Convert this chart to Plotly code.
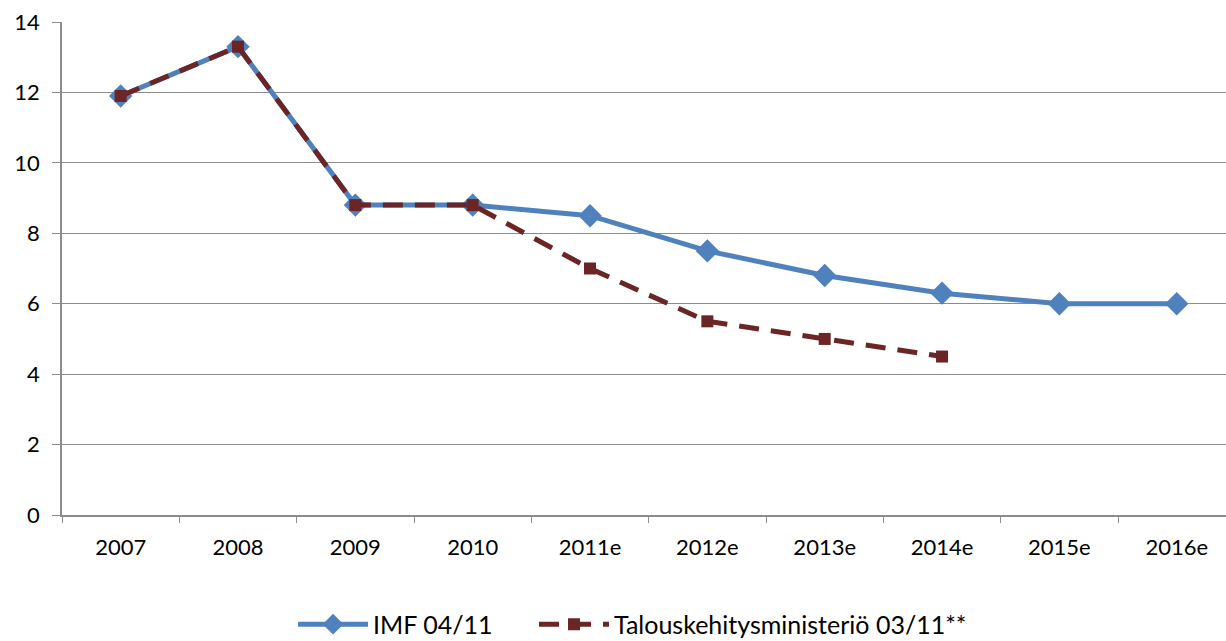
import plotly.graph_objects as go

years = ["2007", "2008", "2009", "2010", "2011e", "2012e", "2013e", "2014e", "2015e", "2016e"]
imf_values = [11.9, 13.3, 8.8, 8.8, 8.5, 7.5, 6.8, 6.3, 6.0, 6.0]
ministry_years = years[:8]
ministry_values = [11.9, 13.3, 8.8, 8.8, 7.0, 5.5, 5.0, 4.5]
y_ticks = [0, 2, 4, 6, 8, 10, 12, 14]

blue = "#4F81BD"
darkred = "#6B2525"
grid = "#8C8C8C"

fig = go.Figure()
fig.add_trace(go.Scatter(
    x=years, y=imf_values, name="IMF 04/11",
    mode="lines+markers",
    line=dict(color=blue, width=5),
    marker=dict(symbol="diamond", size=18, color=blue),
    legend="legend",
))
fig.add_trace(go.Scatter(
    x=ministry_years, y=ministry_values, name="Talouskehitysministeriö 03/11**",
    mode="lines+markers",
    line=dict(color=darkred, width=5, dash="20px,12px"),
    marker=dict(symbol="square", size=12, color=darkred),
    legend="legend2",
))

leg = dict(orientation="h", xanchor="left", y=-0.222, yanchor="middle",
           font=dict(size=25), itemwidth=70, bgcolor="rgba(0,0,0,0)")

fig.update_layout(
    width=1226, height=641,
    margin=dict(l=62, r=0, t=22, b=126, autoexpand=False),
    paper_bgcolor="white", plot_bgcolor="white",
    font=dict(family="Lato, 'Open Sans', sans-serif", size=22, color="black"),
    showlegend=True,
    legend=dict(leg, x=0.1985),
    legend2=dict(leg, x=0.4055),
)
# the original chart is cropped on the right: last category runs past the edge
fig.update_xaxes(
    type="category", categoryorder="array", categoryarray=years,
    range=[-0.5, 9.42], automargin=False,
    showgrid=False, showline=True, linecolor=grid, linewidth=1.5,
    ticks="outside", tickson="boundaries", ticklen=6, tickcolor=grid,
    ticklabelstandoff=12,
)
fig.update_yaxes(
    range=[0, 14], tickvals=y_ticks, automargin=False,
    showgrid=True, gridcolor=grid, gridwidth=1,
    showline=True, linecolor=grid, linewidth=1.5,
    ticks="outside", ticklen=8, tickcolor=grid,
    ticklabelstandoff=8, zeroline=False,
)

# page body has a default 8px margin; drop it so the figure fills the window
fig.write_html("out.html", config={"displayModeBar": False},
               post_script="document.body.style.margin='0';")
